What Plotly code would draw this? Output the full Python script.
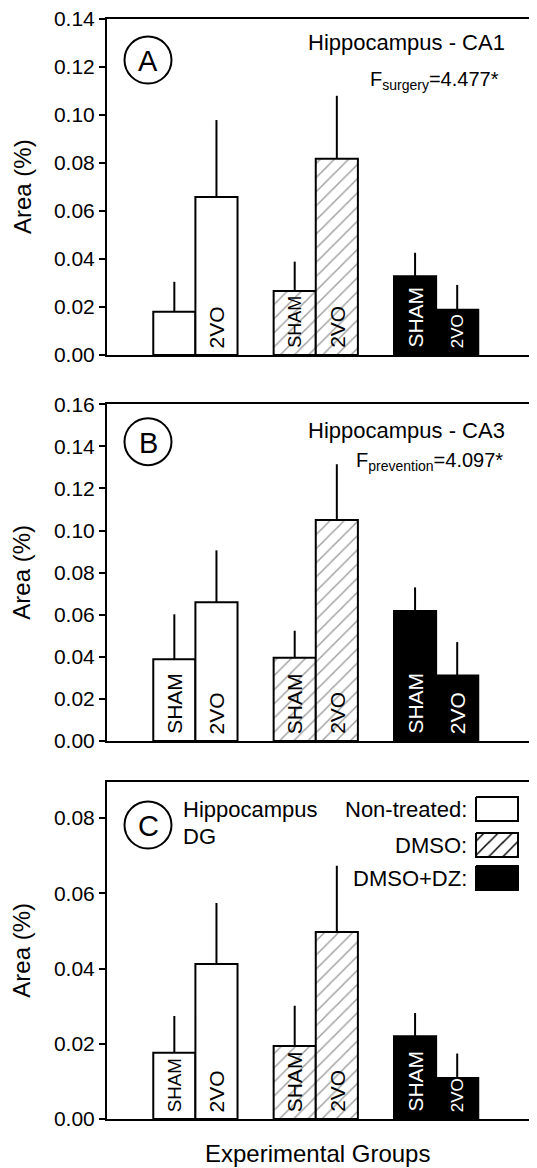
import plotly.graph_objects as go

PAGE_OFF = 8            # default body margin of the HTML page
W, H = 537 - PAGE_OFF, 1168 - PAGE_OFF
FONT = "Liberation Sans, Arial, Helvetica, sans-serif"

groups = ["Non-treated", "DMSO", "DMSO+DZ"]
conditions = ["SHAM", "2VO"]
group_colors = ["white", "white", "black"]
group_patterns = ["", "/", ""]
label_colors = ["black", "black", "white"]

# Panel A: Hippocampus - CA1
ca1_sham = [0.0180, 0.0267, 0.0328]
ca1_sham_err = [0.0125, 0.0122, 0.0098]
ca1_2vo = [0.0658, 0.0818, 0.0189]
ca1_2vo_err = [0.0321, 0.0262, 0.0103]
ca1_sham_labels = ["", "SHAM", "SHAM"]
ca1_2vo_labels = ["2VO", "2VO", "2VO"]

# Panel B: Hippocampus - CA3
ca3_sham = [0.0388, 0.0396, 0.0618]
ca3_sham_err = [0.0214, 0.0128, 0.0112]
ca3_2vo = [0.0659, 0.1050, 0.0311]
ca3_2vo_err = [0.0247, 0.0265, 0.0159]
ca3_sham_labels = ["SHAM", "SHAM", "SHAM"]
ca3_2vo_labels = ["2VO", "2VO", "2VO"]

# Panel C: Hippocampus DG
dg_sham = [0.0176, 0.0194, 0.0220]
dg_sham_err = [0.0098, 0.0107, 0.0062]
dg_2vo = [0.0412, 0.0497, 0.0109]
dg_2vo_err = [0.0162, 0.0176, 0.0065]
dg_sham_labels = ["SHAM", "SHAM", "SHAM"]
dg_2vo_labels = ["2VO", "2VO", "2VO"]

y_ticks_A = [0.00, 0.02, 0.04, 0.06, 0.08, 0.10, 0.12, 0.14]
y_ticks_B = [0.00, 0.02, 0.04, 0.06, 0.08, 0.10, 0.12, 0.14, 0.16]
y_ticks_C = [0.00, 0.02, 0.04, 0.06, 0.08]

panels = [
    dict(letter="A", sham=ca1_sham, sham_err=ca1_sham_err, vo=ca1_2vo, vo_err=ca1_2vo_err,
         sl=ca1_sham_labels, vl=ca1_2vo_labels, ticks=y_ticks_A, ymax=0.14, top=19, bottom=355,
         circle_y=60),
    dict(letter="B", sham=ca3_sham, sham_err=ca3_sham_err, vo=ca3_2vo, vo_err=ca3_2vo_err,
         sl=ca3_sham_labels, vl=ca3_2vo_labels, ticks=y_ticks_B, ymax=0.16, top=404.3, bottom=741,
         circle_y=441.7),
    dict(letter="C", sham=dg_sham, sham_err=dg_sham_err, vo=dg_2vo, vo_err=dg_2vo_err,
         sl=dg_sham_labels, vl=dg_2vo_labels, ticks=y_ticks_C, ymax=0.0895, top=782.3, bottom=1119,
         circle_y=825),
]

# positions below are in screenshot pixels; convert to paper fractions
def px(x):
    return (x - PAGE_OFF) / W

def py(y):
    return 1 - (y - PAGE_OFF) / H

def txt(x, y, text, size, xanchor="center", yanchor="middle", angle=0):
    return dict(x=px(x), y=py(y), xref="paper", yref="paper", text=text, textangle=angle,
                xanchor=xanchor, yanchor=yanchor, showarrow=False,
                font=dict(family=FONT, size=size, color="black"))

X_LEFT = 107
xg = [1, 2, 3]
BAR_W = 0.35
x_range = [0.2656, 3.838]
EM = {"SHAM": 2.889, "2VO": 2.0}

fig = go.Figure()
annotations = []
shapes = []

for i, p in enumerate(panels):
    n = "" if i == 0 else str(i + 1)
    xa, ya = "x" + n, "y" + n
    ppu = (p["bottom"] - p["top"]) / p["ymax"]
    for cond, vals, errs, labels, off in [
        ("SHAM", p["sham"], p["sham_err"], p["sl"], -BAR_W / 2),
        ("2VO", p["vo"], p["vo_err"], p["vl"], BAR_W / 2),
    ]:
        fig.add_trace(go.Bar(
            x=xg, y=vals, name=cond, xaxis=xa, yaxis=ya, width=BAR_W, offset=off - BAR_W / 2,
            marker=dict(color=group_colors, line=dict(color="black", width=2),
                        pattern=dict(shape=group_patterns, fgcolor="black",
                                     fillmode="overlay", size=10, solidity=0.15)),
            error_y=dict(type="data", symmetric=False, array=errs, arrayminus=[0] * len(errs),
                         color="black", thickness=2, width=0),
            showlegend=False,
        ))
        for g, v, lab, col in zip(xg, vals, labels, label_colors):
            if lab:
                size = max(17, min(21, (v * ppu - 12) / EM[lab]))
                annotations.append(dict(
                    x=g + off, y=0, xref=xa, yref=ya, text=lab, textangle=-90,
                    showarrow=False, xanchor="center", yanchor="bottom", yshift=5,
                    font=dict(family=FONT, size=size, color=col)))
    dom = [py(p["bottom"]), py(p["top"])]
    fig.layout["xaxis" + n] = dict(domain=[px(X_LEFT), 1.0], range=x_range, anchor=ya,
                                   showticklabels=False, ticks="", showgrid=False, zeroline=False,
                                   automargin=False,
                                   showline=True, linecolor="black", linewidth=2, mirror=True)
    fig.layout["yaxis" + n] = dict(domain=dom, range=[0, p["ymax"]], anchor=xa,
                                   tickvals=p["ticks"], tickformat=".2f", ticks="outside",
                                   ticklen=6, tickwidth=2, tickcolor="black",
                                   ticklabeloverflow="allow",
                                   tickfont=dict(family=FONT, size=21, color="black"),
                                   showgrid=False, zeroline=False, automargin=False,
                                   showline=True, linecolor="black", linewidth=2, mirror=False)
    # y-axis title
    annotations.append(txt(22, (p["top"] + p["bottom"]) / 2, "Area (%)", 24, angle=-90))
    # circled letter
    cx, cy, r = 148, p["circle_y"], 23.5
    shapes.append(dict(type="circle", xref="paper", yref="paper",
                       x0=px(cx - r), x1=px(cx + r), y0=py(cy + r), y1=py(cy - r),
                       line=dict(color="black", width=2)))
    annotations.append(txt(cx, cy + 1, p["letter"], 29))

# Panel texts
annotations += [
    txt(507, 43, "Hippocampus - CA1", 22, xanchor="right"),
    txt(501, 80, "F<sub>surgery</sub>=4.477*", 20, xanchor="right"),
    txt(507, 430, "Hippocampus - CA3", 22, xanchor="right"),
    txt(505, 462, "F<sub>prevention</sub>=4.097*", 20, xanchor="right"),
    txt(181, 809, "Hippocampus", 22, xanchor="left"),
    txt(181, 836, "DG", 22, xanchor="left"),
    txt(317, 1153, "Experimental Groups", 24),
]

# Legend (text + swatches) in panel C
legend_rows = [(809, "Non-treated:"), (845, "DMSO:"), (878, "DMSO+DZ:")]
for (yc, lab), gcol, gpat in zip(legend_rows, group_colors, group_patterns):
    annotations.append(txt(469, yc, lab, 22, xanchor="right"))
    x0, x1, y0, y1 = 476, 518, yc - 12, yc + 12
    fig.add_trace(go.Scatter(
        x=[x0, x1, x1, x0, x0], y=[y0, y0, y1, y1, y0], xaxis="x4", yaxis="y4",
        mode="lines", fill="toself", fillcolor=gcol,
        fillpattern=dict(shape=gpat, fgcolor="black", bgcolor="white", size=10, solidity=0.15)
        if gpat else None,
        line=dict(color="black", width=2), showlegend=False, hoverinfo="skip"))

fig.layout["xaxis4"] = dict(domain=[0, 1], range=[PAGE_OFF, PAGE_OFF + W], visible=False,
                            anchor="y4", fixedrange=True, automargin=False)
fig.layout["yaxis4"] = dict(domain=[0, 1], range=[PAGE_OFF + H, PAGE_OFF], visible=False,
                            anchor="x4", fixedrange=True, automargin=False)

fig.update_layout(
    template="none",
    width=W, height=H, margin=dict(l=0, r=0, t=0, b=0, pad=0, autoexpand=False),
    paper_bgcolor="white", plot_bgcolor="rgba(0,0,0,0)",
    barmode="overlay", showlegend=False,
    annotations=annotations, shapes=shapes,
    font=dict(family=FONT, color="black"),
)

fig.write_html("out.html")
